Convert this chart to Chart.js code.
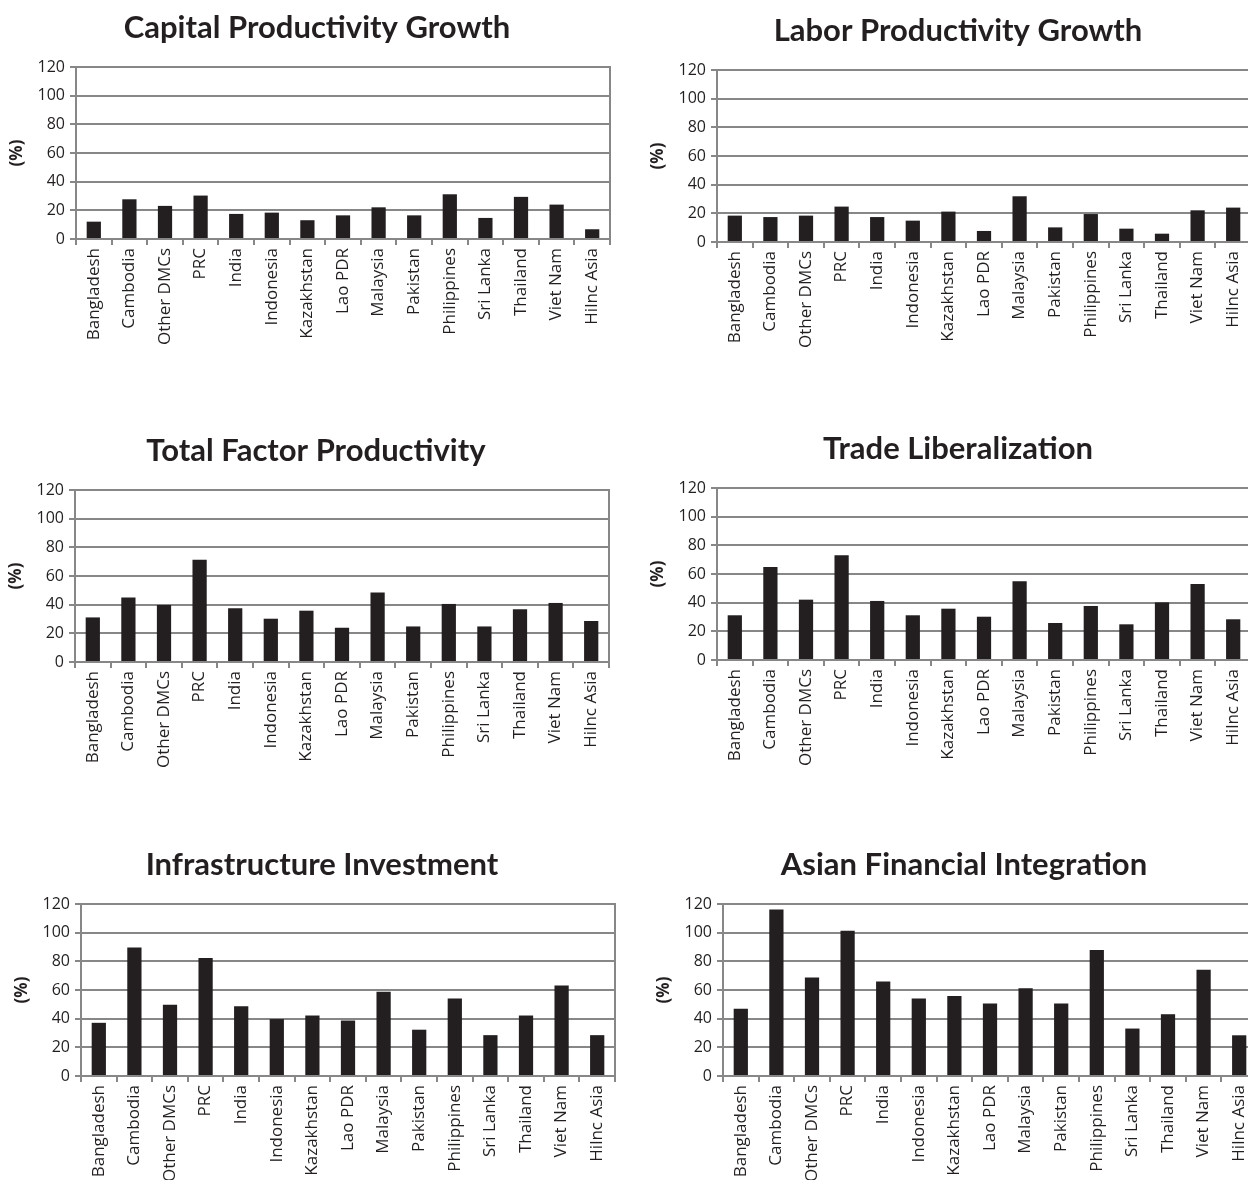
<html lang="en">
<head>
<meta charset="utf-8">
<script src="https://cdn.jsdelivr.net/npm/chart.js@4.4.0/dist/chart.umd.min.js"></script>
<title>Productivity and Integration Scenarios</title>
<style>
    html, body { margin:0; padding:0; background:#ffffff; overflow:hidden; width:1248px; height:1180px; }
    .panel { position:absolute; }
</style>
</head>
<body>
<div class="panel" id="p0"><canvas id="c0"></canvas></div>
<div class="panel" id="p1"><canvas id="c1"></canvas></div>
<div class="panel" id="p2"><canvas id="c2"></canvas></div>
<div class="panel" id="p3"><canvas id="c3"></canvas></div>
<div class="panel" id="p4"><canvas id="c4"></canvas></div>
<div class="panel" id="p5"><canvas id="c5"></canvas></div>
<script>
// categories (same for every panel)
const countries = ["Bangladesh","Cambodia","Other DMCs","PRC","India","Indonesia","Kazakhstan",
                   "Lao PDR","Malaysia","Pakistan","Philippines","Sri Lanka","Thailand","Viet Nam","Hilnc Asia"];

// values (%)
const capitalProductivity = [12.1, 27.7, 23.1, 30.3, 17.5, 18.4, 13.1, 16.5, 22.1, 16.5, 31.2, 14.7, 29.4, 24.0, 6.8];
const laborProductivity   = [18.4, 17.4, 18.4, 24.7, 17.4, 14.9, 21.2, 7.7, 31.9, 10.2, 19.5, 9.3, 5.8, 22.1, 24.0];
const totalFactor         = [31.1, 45.0, 39.8, 71.4, 37.5, 30.2, 35.8, 23.9, 48.5, 24.8, 40.5, 24.8, 36.8, 41.2, 28.6];
const tradeLiberal        = [31.2, 64.9, 42.1, 73.0, 41.2, 31.2, 35.8, 30.2, 54.9, 25.8, 37.7, 24.9, 40.2, 53.0, 28.4];
const infrastructure      = [37.1, 89.6, 49.7, 82.4, 48.7, 39.7, 42.2, 38.7, 58.7, 32.3, 54.1, 28.5, 42.2, 63.1, 28.5];
const financialIntegr     = [46.9, 116.1, 68.8, 101.4, 66.0, 54.1, 55.9, 50.6, 61.3, 50.6, 87.9, 33.1, 43.1, 74.1, 28.4];

const titles = ["Capital Productivity Growth","Labor Productivity Growth","Total Factor Productivity",
                "Trade Liberalization","Infrastructure Investment","Asian Financial Integration"];
const series = [capitalProductivity, laborProductivity, totalFactor, tradeLiberal, infrastructure, financialIntegr];
const yTicks = [0, 20, 40, 60, 80, 100, 120];

// where each plot area sits on the page
const plotLeft = [76, 717, 75, 717, 81, 723];
const plotTop  = [67, 70, 490, 488, 904, 904];

const ink = "#231f20";
const gridGray = "#878787";
const W = 632, H = 440, AXW = 75, RIGHTW = 23, TOPH = 67, PLOTH = 172;

const boxPlugin = {
    id: "box",
    afterDraw(chart) {
        const a = chart.chartArea, ctx = chart.ctx;
        ctx.save();
        ctx.strokeStyle = gridGray;
        ctx.lineWidth = 2;
        ctx.strokeRect(a.left, a.top, a.right - a.left, a.bottom - a.top);
        ctx.restore();
    }
};

for (let i = 0; i < 6; i++) {
    const p = document.getElementById("p" + i);
    p.style.left = (plotLeft[i] - AXW) + "px";
    p.style.top = (plotTop[i] - TOPH) + "px";
    const cv = document.getElementById("c" + i);
    cv.width = W; cv.height = H;
    cv.style.width = W + "px"; cv.style.height = H + "px";

    new Chart(cv, {
        type: "bar",
        data: {
            labels: countries,
            datasets: [{ data: series[i], backgroundColor: ink, borderWidth: 0,
                         barPercentage: 0.4, categoryPercentage: 1.0 }]
        },
        options: {
            responsive: false,
            animation: false,
            layout: { padding: 0 },
            plugins: {
                legend: { display: false },
                tooltip: { enabled: false },
                title: {
                    display: true,
                    text: titles[i],
                    color: ink,
                    font: { family: "Lato", size: 31, weight: "bold", lineHeight: 1.2 },
                    padding: { top: 9, bottom: 20.8 }
                }
            },
            scales: {
                x: {
                    afterFit: s => { s.height = H - TOPH - PLOTH; },
                    grid: { display: true, drawOnChartArea: false, drawTicks: true, tickLength: 6,
                            color: gridGray, lineWidth: 2, offset: true },
                    border: { display: true, color: gridGray, width: 2 },
                    ticks: { color: ink, font: { family: "Open Sans", size: 17 }, minRotation: 90, maxRotation: 90,
                             autoSkip: false, padding: 3 }
                },
                y: {
                    min: 0, max: 120,
                    afterFit: s => { s.width = AXW; },
                    afterBuildTicks: s => { s.ticks = yTicks.map(v => ({ value: v })); },
                    grid: { color: gridGray, lineWidth: 2, tickLength: 6 },
                    border: { display: true, color: gridGray, width: 2 },
                    ticks: { color: ink, font: { family: "Open Sans", size: 16 }, padding: 5 },
                    title: { display: true, text: "(%)", color: ink,
                             font: { family: "Open Sans", size: 17, weight: "bold" }, padding: { top: 6, bottom: 0 } }
                },
                yRight: {
                    position: "right",
                    afterFit: s => { s.width = RIGHTW; },
                    grid: { display: false },
                    border: { display: false },
                    ticks: { display: false }
                }
            }
        },
        plugins: [boxPlugin]
    });
}
</script>
</body>
</html>
